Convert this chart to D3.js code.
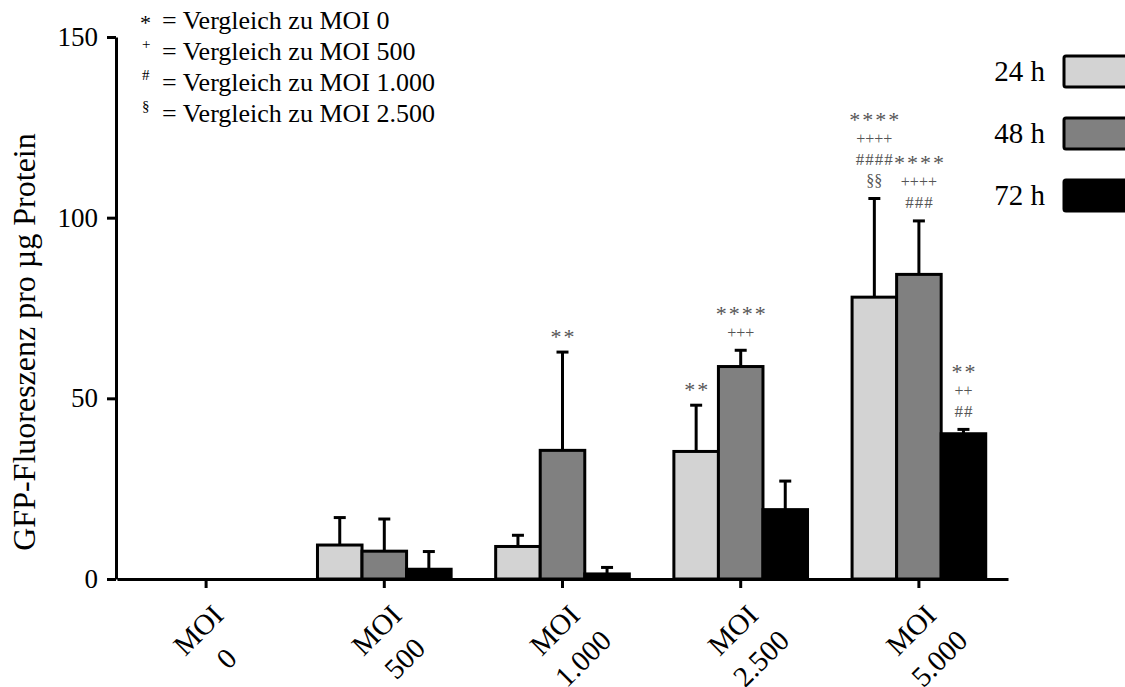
<!DOCTYPE html>
<html>
<head>
<meta charset="utf-8">
<script src="https://cdn.jsdelivr.net/npm/d3@7"></script>
<style>
  body { margin: 0; background: #fff; }
  text { font-family: "Liberation Serif", "Times New Roman", serif; }
</style>
</head>
<body>
<div id="chart"></div>
<script>
const categories = ["MOI 0", "MOI 500", "MOI 1.000", "MOI 2.500", "MOI 5.000"];
const catLines = [["MOI", "0"], ["MOI", "500"], ["MOI", "1.000"], ["MOI", "2.500"], ["MOI", "5.000"]];
const series = ["24 h", "48 h", "72 h"];
const colors = ["#d3d3d3", "#808080", "#000000"];

// mean values per series, one per category
const mean24 = [0, 9.4, 9.0, 35.3, 78.0];
const mean48 = [0, 7.7, 35.6, 58.8, 84.3];
const mean72 = [0, 2.7, 1.4, 19.2, 40.2];
// upper error (mean + sd)
const err24 = [0, 17.0, 12.1, 48.1, 105.3];
const err48 = [0, 16.6, 62.8, 63.3, 99.1];
const err72 = [0, 7.6, 3.2, 27.1, 41.4];

const yTicks = [0, 50, 100, 150];

// significance marks, listed top to bottom
const marks = [
  { cat: 2, s: 1, lines: ["**"] },
  { cat: 3, s: 0, lines: ["**"] },
  { cat: 3, s: 1, lines: ["****", "+++"] },
  { cat: 4, s: 0, lines: ["****", "++++", "####", "§§"] },
  { cat: 4, s: 1, lines: ["****", "++++", "###"] },
  { cat: 4, s: 2, lines: ["**", "++", "##"] }
];

const notes = [
  { sym: "*", sup: false, text: "= Vergleich zu MOI 0" },
  { sym: "+", sup: true, text: "= Vergleich zu MOI 500" },
  { sym: "#", sup: true, text: "= Vergleich zu MOI 1.000" },
  { sym: "§", sup: true, text: "= Vergleich zu MOI 2.500" }
];

const means = [mean24, mean48, mean72];
const errs = [err24, err48, err72];

const W = 1125, H = 687;
const svg = d3.select("#chart").append("svg")
  .attr("width", W).attr("height", H);

const x0 = d3.scaleBand().domain(categories).range([117, 1008]);
const x1 = d3.scaleBand().domain(series)
  .range([x0.bandwidth() * 0.125, x0.bandwidth() * 0.875]);
const y = d3.scaleLinear().domain([0, 150]).range([579, 37]);

// bars
const rows = [];
categories.forEach((c, ci) => series.forEach((s, si) => {
  rows.push({ c, ci, s, si, v: means[si][ci], e: errs[si][ci] });
}));

const bars = svg.append("g");
// error bars first so the bar outline sits on top of the stem base
bars.selectAll("g.err")
  .data(rows.filter(d => d.e > d.v))
  .join("g")
  .attr("class", "err")
  .each(function (d) {
    const cx = x0(d.c) + x1(d.s) + x1.bandwidth() / 2;
    const g = d3.select(this);
    g.append("line")
      .attr("x1", cx).attr("x2", cx)
      .attr("y1", y(d.v)).attr("y2", y(d.e))
      .attr("stroke", "#000").attr("stroke-width", 3);
    g.append("line")
      .attr("x1", cx - 6).attr("x2", cx + 6)
      .attr("y1", y(d.e)).attr("y2", y(d.e))
      .attr("stroke", "#000").attr("stroke-width", 3);
  });

bars.selectAll("rect")
  .data(rows.filter(d => d.v > 0))
  .join("rect")
  .attr("x", d => x0(d.c) + x1(d.s))
  .attr("width", x1.bandwidth())
  .attr("y", d => y(d.v))
  .attr("height", d => y(0) - y(d.v))
  .attr("fill", d => colors[d.si])
  .attr("stroke", "#000")
  .attr("stroke-width", 3);

// axes
const yAxis = svg.append("g")
  .attr("transform", "translate(116,0)")
  .call(d3.axisLeft(y).tickValues(yTicks).tickSize(9).tickSizeOuter(0).tickPadding(9));
const xAxis = svg.append("g")
  .attr("transform", "translate(0,579)")
  .call(d3.axisBottom(x0).tickSize(9).tickSizeOuter(0).tickFormat(""));
[yAxis, xAxis].forEach(a => {
  a.selectAll("path, line").attr("stroke", "#000").attr("stroke-width", 3);
});
yAxis.selectAll("text")
  .attr("fill", "#000")
  .style("font-family", "Liberation Serif")
  .style("font-size", "27px");

// rotated category labels
svg.append("g").selectAll("g.xl")
  .data(categories)
  .join("g")
  .attr("class", "xl")
  .attr("transform", d => `translate(${x0(d) + x0.bandwidth() / 2 - 8},${630}) rotate(-45)`)
  .each(function (d, i) {
    d3.select(this).selectAll("text")
      .data(catLines[i])
      .join("text")
      .attr("x", 0)
      .attr("y", (t, k) => k * 40)
      .attr("text-anchor", "middle")
      .attr("dominant-baseline", "central")
      .style("font-size", "29px")
      .text(t => t);
  });

// y label
svg.append("text")
  .attr("transform", "translate(24,342) rotate(-90)")
  .attr("text-anchor", "middle")
  .attr("dominant-baseline", "central")
  .style("font-size", "32px")
  .text("GFP-Fluoreszenz pro µg Protein");

// significance marks
const markStyle = {
  "*": { size: 22, spacing: 2 },
  "+": { size: 16, spacing: 0 },
  "#": { size: 17, spacing: 1 },
  "§": { size: 16, spacing: 0 }
};
const mg = svg.append("g").attr("fill", "#555");
marks.forEach(m => {
  const cx = x0(categories[m.cat]) + x1(series[m.s]) + x1.bandwidth() / 2;
  const top = y(errs[m.s][m.cat]);
  const n = m.lines.length;
  m.lines.forEach((t, k) => {
    const st = markStyle[t[0]];
    mg.append("text")
      .attr("x", cx + st.spacing / 2)
      .attr("y", top - 18 - (n - 1 - k) * 21 + (t[0] === "*" ? 2 : 0))
      .attr("text-anchor", "middle")
      .attr("dominant-baseline", "central")
      .style("font-size", st.size + "px")
      .style("letter-spacing", st.spacing + "px")
      .text(t);
  });
});

// notes at top left
const ng = svg.append("g");
notes.forEach((n, i) => {
  const yy = 20 + i * 31;
  ng.append("text")
    .attr("x", n.sup ? 142 : 140)
    .attr("y", n.sup ? yy - 7 : yy + 2)
    .attr("dominant-baseline", "central")
    .style("font-size", n.sup ? "15px" : "22px")
    .text(n.sym);
  ng.append("text")
    .attr("x", 162)
    .attr("y", yy)
    .attr("dominant-baseline", "central")
    .style("font-size", "26px")
    .text(n.text);
});

// legend right
const lg = svg.append("g").selectAll("g")
  .data(series)
  .join("g")
  .attr("transform", (d, i) => `translate(0,${56 + i * 62})`);
lg.append("text")
  .attr("x", 1045)
  .attr("y", 15)
  .attr("text-anchor", "end")
  .attr("dominant-baseline", "central")
  .style("font-size", "29px")
  .text(d => d);
lg.append("rect")
  .attr("x", 1064)
  .attr("y", 0)
  .attr("width", 90)
  .attr("height", 31)
  .attr("rx", 2)
  .attr("fill", (d, i) => colors[i])
  .attr("stroke", "#000")
  .attr("stroke-width", 3);
</script>
</body>
</html>
